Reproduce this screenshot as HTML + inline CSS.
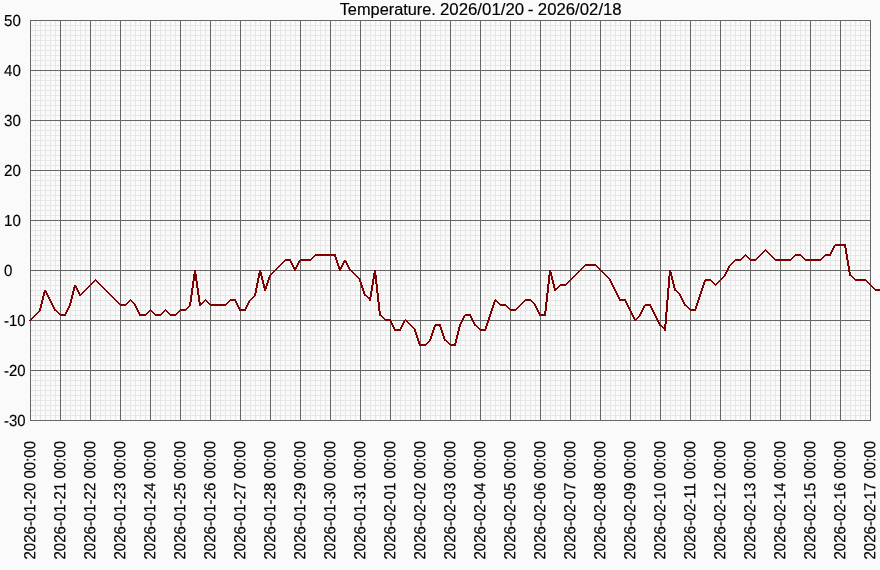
<!DOCTYPE html>
<html><head><meta charset="utf-8"><title>Temperature</title>
<style>
html,body{margin:0;padding:0;background:#fafafa;}
body{width:880px;height:570px;overflow:hidden;}
svg{display:block;}
text{font-family:"Liberation Sans",sans-serif;fill:#000000;stroke:#000000;stroke-width:0.15px;}
svg{will-change:transform;}
</style></head><body>
<svg width="880" height="570" viewBox="0 0 880 570">
<rect x="0" y="0" width="880" height="570" fill="#fafafa"/>
<g fill="#e6e6e6" shape-rendering="crispEdges">
<rect x="35" y="20" width="1" height="401"/><rect x="40" y="20" width="1" height="401"/><rect x="45" y="20" width="1" height="401"/><rect x="50" y="20" width="1" height="401"/><rect x="55" y="20" width="1" height="401"/><rect x="65" y="20" width="1" height="401"/><rect x="70" y="20" width="1" height="401"/><rect x="75" y="20" width="1" height="401"/><rect x="80" y="20" width="1" height="401"/><rect x="85" y="20" width="1" height="401"/><rect x="95" y="20" width="1" height="401"/><rect x="100" y="20" width="1" height="401"/><rect x="105" y="20" width="1" height="401"/><rect x="110" y="20" width="1" height="401"/><rect x="115" y="20" width="1" height="401"/><rect x="125" y="20" width="1" height="401"/><rect x="130" y="20" width="1" height="401"/><rect x="135" y="20" width="1" height="401"/><rect x="140" y="20" width="1" height="401"/><rect x="145" y="20" width="1" height="401"/><rect x="155" y="20" width="1" height="401"/><rect x="160" y="20" width="1" height="401"/><rect x="165" y="20" width="1" height="401"/><rect x="170" y="20" width="1" height="401"/><rect x="175" y="20" width="1" height="401"/><rect x="185" y="20" width="1" height="401"/><rect x="190" y="20" width="1" height="401"/><rect x="195" y="20" width="1" height="401"/><rect x="200" y="20" width="1" height="401"/><rect x="205" y="20" width="1" height="401"/><rect x="215" y="20" width="1" height="401"/><rect x="220" y="20" width="1" height="401"/><rect x="225" y="20" width="1" height="401"/><rect x="230" y="20" width="1" height="401"/><rect x="235" y="20" width="1" height="401"/><rect x="245" y="20" width="1" height="401"/><rect x="250" y="20" width="1" height="401"/><rect x="255" y="20" width="1" height="401"/><rect x="260" y="20" width="1" height="401"/><rect x="265" y="20" width="1" height="401"/><rect x="275" y="20" width="1" height="401"/><rect x="280" y="20" width="1" height="401"/><rect x="285" y="20" width="1" height="401"/><rect x="290" y="20" width="1" height="401"/><rect x="295" y="20" width="1" height="401"/><rect x="305" y="20" width="1" height="401"/><rect x="310" y="20" width="1" height="401"/><rect x="315" y="20" width="1" height="401"/><rect x="320" y="20" width="1" height="401"/><rect x="325" y="20" width="1" height="401"/><rect x="335" y="20" width="1" height="401"/><rect x="340" y="20" width="1" height="401"/><rect x="345" y="20" width="1" height="401"/><rect x="350" y="20" width="1" height="401"/><rect x="355" y="20" width="1" height="401"/><rect x="365" y="20" width="1" height="401"/><rect x="370" y="20" width="1" height="401"/><rect x="375" y="20" width="1" height="401"/><rect x="380" y="20" width="1" height="401"/><rect x="385" y="20" width="1" height="401"/><rect x="395" y="20" width="1" height="401"/><rect x="400" y="20" width="1" height="401"/><rect x="405" y="20" width="1" height="401"/><rect x="410" y="20" width="1" height="401"/><rect x="415" y="20" width="1" height="401"/><rect x="425" y="20" width="1" height="401"/><rect x="430" y="20" width="1" height="401"/><rect x="435" y="20" width="1" height="401"/><rect x="440" y="20" width="1" height="401"/><rect x="445" y="20" width="1" height="401"/><rect x="455" y="20" width="1" height="401"/><rect x="460" y="20" width="1" height="401"/><rect x="465" y="20" width="1" height="401"/><rect x="470" y="20" width="1" height="401"/><rect x="475" y="20" width="1" height="401"/><rect x="485" y="20" width="1" height="401"/><rect x="490" y="20" width="1" height="401"/><rect x="495" y="20" width="1" height="401"/><rect x="500" y="20" width="1" height="401"/><rect x="505" y="20" width="1" height="401"/><rect x="515" y="20" width="1" height="401"/><rect x="520" y="20" width="1" height="401"/><rect x="525" y="20" width="1" height="401"/><rect x="530" y="20" width="1" height="401"/><rect x="535" y="20" width="1" height="401"/><rect x="545" y="20" width="1" height="401"/><rect x="550" y="20" width="1" height="401"/><rect x="555" y="20" width="1" height="401"/><rect x="560" y="20" width="1" height="401"/><rect x="565" y="20" width="1" height="401"/><rect x="575" y="20" width="1" height="401"/><rect x="580" y="20" width="1" height="401"/><rect x="585" y="20" width="1" height="401"/><rect x="590" y="20" width="1" height="401"/><rect x="595" y="20" width="1" height="401"/><rect x="605" y="20" width="1" height="401"/><rect x="610" y="20" width="1" height="401"/><rect x="615" y="20" width="1" height="401"/><rect x="620" y="20" width="1" height="401"/><rect x="625" y="20" width="1" height="401"/><rect x="635" y="20" width="1" height="401"/><rect x="640" y="20" width="1" height="401"/><rect x="645" y="20" width="1" height="401"/><rect x="650" y="20" width="1" height="401"/><rect x="655" y="20" width="1" height="401"/><rect x="665" y="20" width="1" height="401"/><rect x="670" y="20" width="1" height="401"/><rect x="675" y="20" width="1" height="401"/><rect x="680" y="20" width="1" height="401"/><rect x="685" y="20" width="1" height="401"/><rect x="695" y="20" width="1" height="401"/><rect x="700" y="20" width="1" height="401"/><rect x="705" y="20" width="1" height="401"/><rect x="710" y="20" width="1" height="401"/><rect x="715" y="20" width="1" height="401"/><rect x="725" y="20" width="1" height="401"/><rect x="730" y="20" width="1" height="401"/><rect x="735" y="20" width="1" height="401"/><rect x="740" y="20" width="1" height="401"/><rect x="745" y="20" width="1" height="401"/><rect x="755" y="20" width="1" height="401"/><rect x="760" y="20" width="1" height="401"/><rect x="765" y="20" width="1" height="401"/><rect x="770" y="20" width="1" height="401"/><rect x="775" y="20" width="1" height="401"/><rect x="785" y="20" width="1" height="401"/><rect x="790" y="20" width="1" height="401"/><rect x="795" y="20" width="1" height="401"/><rect x="800" y="20" width="1" height="401"/><rect x="805" y="20" width="1" height="401"/><rect x="815" y="20" width="1" height="401"/><rect x="820" y="20" width="1" height="401"/><rect x="825" y="20" width="1" height="401"/><rect x="830" y="20" width="1" height="401"/><rect x="835" y="20" width="1" height="401"/><rect x="845" y="20" width="1" height="401"/><rect x="850" y="20" width="1" height="401"/><rect x="855" y="20" width="1" height="401"/><rect x="860" y="20" width="1" height="401"/><rect x="865" y="20" width="1" height="401"/>
<rect x="30" y="25" width="841" height="1"/><rect x="30" y="30" width="841" height="1"/><rect x="30" y="35" width="841" height="1"/><rect x="30" y="40" width="841" height="1"/><rect x="30" y="45" width="841" height="1"/><rect x="30" y="50" width="841" height="1"/><rect x="30" y="55" width="841" height="1"/><rect x="30" y="60" width="841" height="1"/><rect x="30" y="65" width="841" height="1"/><rect x="30" y="75" width="841" height="1"/><rect x="30" y="80" width="841" height="1"/><rect x="30" y="85" width="841" height="1"/><rect x="30" y="90" width="841" height="1"/><rect x="30" y="95" width="841" height="1"/><rect x="30" y="100" width="841" height="1"/><rect x="30" y="105" width="841" height="1"/><rect x="30" y="110" width="841" height="1"/><rect x="30" y="115" width="841" height="1"/><rect x="30" y="125" width="841" height="1"/><rect x="30" y="130" width="841" height="1"/><rect x="30" y="135" width="841" height="1"/><rect x="30" y="140" width="841" height="1"/><rect x="30" y="145" width="841" height="1"/><rect x="30" y="150" width="841" height="1"/><rect x="30" y="155" width="841" height="1"/><rect x="30" y="160" width="841" height="1"/><rect x="30" y="165" width="841" height="1"/><rect x="30" y="175" width="841" height="1"/><rect x="30" y="180" width="841" height="1"/><rect x="30" y="185" width="841" height="1"/><rect x="30" y="190" width="841" height="1"/><rect x="30" y="195" width="841" height="1"/><rect x="30" y="200" width="841" height="1"/><rect x="30" y="205" width="841" height="1"/><rect x="30" y="210" width="841" height="1"/><rect x="30" y="215" width="841" height="1"/><rect x="30" y="225" width="841" height="1"/><rect x="30" y="230" width="841" height="1"/><rect x="30" y="235" width="841" height="1"/><rect x="30" y="240" width="841" height="1"/><rect x="30" y="245" width="841" height="1"/><rect x="30" y="250" width="841" height="1"/><rect x="30" y="255" width="841" height="1"/><rect x="30" y="260" width="841" height="1"/><rect x="30" y="265" width="841" height="1"/><rect x="30" y="275" width="841" height="1"/><rect x="30" y="280" width="841" height="1"/><rect x="30" y="285" width="841" height="1"/><rect x="30" y="290" width="841" height="1"/><rect x="30" y="295" width="841" height="1"/><rect x="30" y="300" width="841" height="1"/><rect x="30" y="305" width="841" height="1"/><rect x="30" y="310" width="841" height="1"/><rect x="30" y="315" width="841" height="1"/><rect x="30" y="325" width="841" height="1"/><rect x="30" y="330" width="841" height="1"/><rect x="30" y="335" width="841" height="1"/><rect x="30" y="340" width="841" height="1"/><rect x="30" y="345" width="841" height="1"/><rect x="30" y="350" width="841" height="1"/><rect x="30" y="355" width="841" height="1"/><rect x="30" y="360" width="841" height="1"/><rect x="30" y="365" width="841" height="1"/><rect x="30" y="375" width="841" height="1"/><rect x="30" y="380" width="841" height="1"/><rect x="30" y="385" width="841" height="1"/><rect x="30" y="390" width="841" height="1"/><rect x="30" y="395" width="841" height="1"/><rect x="30" y="400" width="841" height="1"/><rect x="30" y="405" width="841" height="1"/><rect x="30" y="410" width="841" height="1"/><rect x="30" y="415" width="841" height="1"/>
</g>
<g fill="#666666" shape-rendering="crispEdges">
<rect x="30" y="20" width="1" height="401"/><rect x="60" y="20" width="1" height="401"/><rect x="90" y="20" width="1" height="401"/><rect x="120" y="20" width="1" height="401"/><rect x="150" y="20" width="1" height="401"/><rect x="180" y="20" width="1" height="401"/><rect x="210" y="20" width="1" height="401"/><rect x="240" y="20" width="1" height="401"/><rect x="270" y="20" width="1" height="401"/><rect x="300" y="20" width="1" height="401"/><rect x="330" y="20" width="1" height="401"/><rect x="360" y="20" width="1" height="401"/><rect x="390" y="20" width="1" height="401"/><rect x="420" y="20" width="1" height="401"/><rect x="450" y="20" width="1" height="401"/><rect x="480" y="20" width="1" height="401"/><rect x="510" y="20" width="1" height="401"/><rect x="540" y="20" width="1" height="401"/><rect x="570" y="20" width="1" height="401"/><rect x="600" y="20" width="1" height="401"/><rect x="630" y="20" width="1" height="401"/><rect x="660" y="20" width="1" height="401"/><rect x="690" y="20" width="1" height="401"/><rect x="720" y="20" width="1" height="401"/><rect x="750" y="20" width="1" height="401"/><rect x="780" y="20" width="1" height="401"/><rect x="810" y="20" width="1" height="401"/><rect x="840" y="20" width="1" height="401"/><rect x="870" y="20" width="1" height="401"/>
<rect x="30" y="20" width="841" height="1"/><rect x="30" y="70" width="841" height="1"/><rect x="30" y="120" width="841" height="1"/><rect x="30" y="170" width="841" height="1"/><rect x="30" y="220" width="841" height="1"/><rect x="30" y="270" width="841" height="1"/><rect x="30" y="320" width="841" height="1"/><rect x="30" y="370" width="841" height="1"/><rect x="30" y="420" width="841" height="1"/>
</g>
<path d="M835 244h11v1h-11zM834 245h12v1h-12zM833 246h2v1h-2zM844 246h2v1h-2zM833 247h2v1h-2zM844 247h2v1h-2zM832 248h2v1h-2zM845 248h2v1h-2zM765 249h1v1h-1zM832 249h2v1h-2zM845 249h2v1h-2zM764 250h3v1h-3zM831 250h2v1h-2zM845 250h2v1h-2zM763 251h2v1h-2zM766 251h2v1h-2zM831 251h2v1h-2zM845 251h2v1h-2zM762 252h2v1h-2zM767 252h2v1h-2zM830 252h2v1h-2zM845 252h2v1h-2zM761 253h2v1h-2zM768 253h2v1h-2zM830 253h2v1h-2zM845 253h2v1h-2zM315 254h21v1h-21zM745 254h1v1h-1zM760 254h2v1h-2zM769 254h2v1h-2zM795 254h6v1h-6zM825 254h6v1h-6zM846 254h2v1h-2zM314 255h22v1h-22zM744 255h3v1h-3zM759 255h2v1h-2zM770 255h2v1h-2zM794 255h8v1h-8zM824 255h7v1h-7zM846 255h2v1h-2zM313 256h2v1h-2zM334 256h2v1h-2zM743 256h2v1h-2zM746 256h2v1h-2zM758 256h2v1h-2zM771 256h2v1h-2zM793 256h2v1h-2zM801 256h2v1h-2zM823 256h2v1h-2zM846 256h2v1h-2zM312 257h2v1h-2zM335 257h2v1h-2zM742 257h2v1h-2zM747 257h2v1h-2zM757 257h2v1h-2zM772 257h2v1h-2zM792 257h2v1h-2zM802 257h2v1h-2zM822 257h2v1h-2zM846 257h2v1h-2zM311 258h2v1h-2zM335 258h2v1h-2zM741 258h2v1h-2zM748 258h2v1h-2zM756 258h2v1h-2zM773 258h2v1h-2zM791 258h2v1h-2zM803 258h2v1h-2zM821 258h2v1h-2zM846 258h2v1h-2zM285 259h6v1h-6zM300 259h12v1h-12zM335 259h2v1h-2zM735 259h7v1h-7zM749 259h8v1h-8zM774 259h18v1h-18zM804 259h18v1h-18zM846 259h2v1h-2zM284 260h7v1h-7zM299 260h12v1h-12zM336 260h2v1h-2zM344 260h2v1h-2zM734 260h7v1h-7zM750 260h6v1h-6zM775 260h16v1h-16zM805 260h16v1h-16zM847 260h2v1h-2zM283 261h2v1h-2zM290 261h2v1h-2zM298 261h2v1h-2zM336 261h2v1h-2zM343 261h4v1h-4zM733 261h2v1h-2zM847 261h2v1h-2zM282 262h2v1h-2zM290 262h2v1h-2zM298 262h2v1h-2zM336 262h2v1h-2zM343 262h4v1h-4zM732 262h2v1h-2zM847 262h2v1h-2zM281 263h2v1h-2zM291 263h2v1h-2zM297 263h2v1h-2zM337 263h2v1h-2zM342 263h2v1h-2zM346 263h2v1h-2zM731 263h2v1h-2zM847 263h2v1h-2zM280 264h2v1h-2zM291 264h2v1h-2zM297 264h2v1h-2zM337 264h2v1h-2zM342 264h2v1h-2zM346 264h2v1h-2zM585 264h11v1h-11zM730 264h2v1h-2zM847 264h2v1h-2zM279 265h2v1h-2zM292 265h2v1h-2zM296 265h2v1h-2zM337 265h2v1h-2zM341 265h2v1h-2zM347 265h2v1h-2zM584 265h13v1h-13zM729 265h2v1h-2zM847 265h2v1h-2zM278 266h2v1h-2zM292 266h2v1h-2zM296 266h2v1h-2zM338 266h2v1h-2zM341 266h2v1h-2zM347 266h2v1h-2zM583 266h2v1h-2zM596 266h2v1h-2zM728 266h2v1h-2zM848 266h2v1h-2zM277 267h2v1h-2zM293 267h4v1h-4zM338 267h4v1h-4zM348 267h2v1h-2zM582 267h2v1h-2zM597 267h2v1h-2zM728 267h2v1h-2zM848 267h2v1h-2zM276 268h2v1h-2zM293 268h4v1h-4zM338 268h4v1h-4zM348 268h2v1h-2zM581 268h2v1h-2zM598 268h2v1h-2zM727 268h2v1h-2zM848 268h2v1h-2zM275 269h2v1h-2zM294 269h2v1h-2zM339 269h2v1h-2zM349 269h2v1h-2zM580 269h2v1h-2zM599 269h2v1h-2zM727 269h2v1h-2zM848 269h2v1h-2zM194 270h2v1h-2zM259 270h2v1h-2zM274 270h2v1h-2zM294 270h2v1h-2zM339 270h2v1h-2zM349 270h3v1h-3zM374 270h2v1h-2zM549 270h2v1h-2zM579 270h2v1h-2zM600 270h2v1h-2zM669 270h2v1h-2zM726 270h2v1h-2zM848 270h2v1h-2zM194 271h2v1h-2zM259 271h2v1h-2zM273 271h2v1h-2zM351 271h2v1h-2zM374 271h2v1h-2zM549 271h2v1h-2zM578 271h2v1h-2zM601 271h2v1h-2zM669 271h2v1h-2zM726 271h2v1h-2zM848 271h2v1h-2zM194 272h2v1h-2zM259 272h3v1h-3zM272 272h2v1h-2zM352 272h2v1h-2zM374 272h2v1h-2zM549 272h3v1h-3zM577 272h2v1h-2zM602 272h2v1h-2zM669 272h3v1h-3zM725 272h2v1h-2zM849 272h2v1h-2zM194 273h2v1h-2zM258 273h4v1h-4zM271 273h2v1h-2zM353 273h2v1h-2zM373 273h3v1h-3zM549 273h3v1h-3zM576 273h2v1h-2zM603 273h2v1h-2zM669 273h3v1h-3zM725 273h2v1h-2zM849 273h2v1h-2zM193 274h4v1h-4zM258 274h4v1h-4zM270 274h2v1h-2zM354 274h2v1h-2zM373 274h3v1h-3zM549 274h3v1h-3zM575 274h2v1h-2zM604 274h2v1h-2zM669 274h3v1h-3zM724 274h2v1h-2zM849 274h2v1h-2zM193 275h4v1h-4zM258 275h4v1h-4zM269 275h2v1h-2zM355 275h2v1h-2zM373 275h4v1h-4zM548 275h4v1h-4zM574 275h2v1h-2zM605 275h2v1h-2zM669 275h3v1h-3zM724 275h2v1h-2zM849 275h3v1h-3zM193 276h4v1h-4zM258 276h2v1h-2zM261 276h2v1h-2zM269 276h2v1h-2zM356 276h2v1h-2zM373 276h4v1h-4zM548 276h2v1h-2zM551 276h2v1h-2zM573 276h2v1h-2zM606 276h2v1h-2zM668 276h2v1h-2zM671 276h2v1h-2zM723 276h2v1h-2zM851 276h2v1h-2zM193 277h4v1h-4zM258 277h2v1h-2zM261 277h2v1h-2zM268 277h2v1h-2zM357 277h2v1h-2zM373 277h4v1h-4zM548 277h2v1h-2zM551 277h2v1h-2zM572 277h2v1h-2zM607 277h2v1h-2zM668 277h2v1h-2zM671 277h2v1h-2zM722 277h2v1h-2zM852 277h2v1h-2zM193 278h4v1h-4zM257 278h2v1h-2zM261 278h2v1h-2zM268 278h2v1h-2zM358 278h2v1h-2zM373 278h4v1h-4zM548 278h2v1h-2zM551 278h2v1h-2zM571 278h2v1h-2zM608 278h2v1h-2zM668 278h2v1h-2zM671 278h2v1h-2zM721 278h2v1h-2zM853 278h2v1h-2zM95 279h1v1h-1zM193 279h4v1h-4zM257 279h2v1h-2zM261 279h2v1h-2zM268 279h2v1h-2zM359 279h2v1h-2zM372 279h2v1h-2zM375 279h2v1h-2zM548 279h2v1h-2zM551 279h2v1h-2zM570 279h2v1h-2zM609 279h2v1h-2zM668 279h2v1h-2zM671 279h2v1h-2zM705 279h6v1h-6zM720 279h2v1h-2zM854 279h12v1h-12zM94 280h3v1h-3zM193 280h4v1h-4zM257 280h2v1h-2zM262 280h2v1h-2zM267 280h2v1h-2zM359 280h2v1h-2zM372 280h2v1h-2zM375 280h2v1h-2zM548 280h2v1h-2zM552 280h2v1h-2zM569 280h2v1h-2zM609 280h2v1h-2zM668 280h2v1h-2zM672 280h2v1h-2zM704 280h8v1h-8zM719 280h2v1h-2zM855 280h12v1h-12zM93 281h2v1h-2zM96 281h2v1h-2zM192 281h2v1h-2zM196 281h2v1h-2zM257 281h2v1h-2zM262 281h2v1h-2zM267 281h2v1h-2zM359 281h2v1h-2zM372 281h2v1h-2zM375 281h2v1h-2zM548 281h2v1h-2zM552 281h2v1h-2zM568 281h2v1h-2zM610 281h2v1h-2zM668 281h2v1h-2zM672 281h2v1h-2zM704 281h2v1h-2zM711 281h2v1h-2zM718 281h2v1h-2zM866 281h2v1h-2zM92 282h2v1h-2zM97 282h2v1h-2zM192 282h2v1h-2zM196 282h2v1h-2zM257 282h2v1h-2zM262 282h2v1h-2zM267 282h2v1h-2zM360 282h2v1h-2zM372 282h2v1h-2zM375 282h2v1h-2zM548 282h2v1h-2zM552 282h2v1h-2zM567 282h2v1h-2zM610 282h2v1h-2zM668 282h2v1h-2zM672 282h2v1h-2zM703 282h2v1h-2zM712 282h2v1h-2zM717 282h2v1h-2zM867 282h2v1h-2zM91 283h2v1h-2zM98 283h2v1h-2zM192 283h2v1h-2zM196 283h2v1h-2zM256 283h2v1h-2zM262 283h2v1h-2zM266 283h2v1h-2zM360 283h2v1h-2zM372 283h2v1h-2zM375 283h2v1h-2zM548 283h2v1h-2zM552 283h2v1h-2zM566 283h2v1h-2zM611 283h2v1h-2zM668 283h2v1h-2zM672 283h2v1h-2zM703 283h2v1h-2zM713 283h2v1h-2zM716 283h2v1h-2zM868 283h2v1h-2zM90 284h2v1h-2zM99 284h2v1h-2zM192 284h2v1h-2zM196 284h2v1h-2zM256 284h2v1h-2zM263 284h2v1h-2zM266 284h2v1h-2zM360 284h2v1h-2zM372 284h2v1h-2zM376 284h2v1h-2zM547 284h2v1h-2zM553 284h2v1h-2zM560 284h7v1h-7zM611 284h2v1h-2zM668 284h2v1h-2zM673 284h2v1h-2zM703 284h2v1h-2zM714 284h3v1h-3zM869 284h2v1h-2zM74 285h2v1h-2zM89 285h2v1h-2zM100 285h2v1h-2zM192 285h2v1h-2zM196 285h2v1h-2zM256 285h2v1h-2zM263 285h2v1h-2zM266 285h2v1h-2zM361 285h2v1h-2zM371 285h2v1h-2zM376 285h2v1h-2zM547 285h2v1h-2zM553 285h2v1h-2zM559 285h7v1h-7zM612 285h2v1h-2zM668 285h2v1h-2zM673 285h2v1h-2zM702 285h2v1h-2zM715 285h1v1h-1zM870 285h2v1h-2zM74 286h3v1h-3zM88 286h2v1h-2zM101 286h2v1h-2zM192 286h2v1h-2zM196 286h2v1h-2zM256 286h2v1h-2zM263 286h4v1h-4zM361 286h2v1h-2zM371 286h2v1h-2zM376 286h2v1h-2zM547 286h2v1h-2zM553 286h2v1h-2zM558 286h2v1h-2zM612 286h2v1h-2zM668 286h2v1h-2zM673 286h2v1h-2zM702 286h2v1h-2zM871 286h2v1h-2zM73 287h4v1h-4zM87 287h2v1h-2zM102 287h2v1h-2zM192 287h2v1h-2zM196 287h2v1h-2zM256 287h2v1h-2zM263 287h4v1h-4zM361 287h2v1h-2zM371 287h2v1h-2zM376 287h2v1h-2zM547 287h2v1h-2zM553 287h2v1h-2zM557 287h2v1h-2zM613 287h2v1h-2zM668 287h2v1h-2zM673 287h2v1h-2zM702 287h2v1h-2zM872 287h2v1h-2zM73 288h2v1h-2zM76 288h2v1h-2zM86 288h2v1h-2zM103 288h2v1h-2zM191 288h2v1h-2zM197 288h2v1h-2zM255 288h2v1h-2zM264 288h3v1h-3zM362 288h2v1h-2zM371 288h2v1h-2zM376 288h2v1h-2zM547 288h2v1h-2zM554 288h4v1h-4zM613 288h2v1h-2zM667 288h2v1h-2zM674 288h2v1h-2zM701 288h2v1h-2zM873 288h2v1h-2zM73 289h2v1h-2zM76 289h2v1h-2zM85 289h2v1h-2zM104 289h2v1h-2zM191 289h2v1h-2zM197 289h2v1h-2zM255 289h2v1h-2zM264 289h2v1h-2zM362 289h2v1h-2zM371 289h2v1h-2zM376 289h2v1h-2zM547 289h2v1h-2zM554 289h3v1h-3zM614 289h2v1h-2zM667 289h2v1h-2zM674 289h2v1h-2zM701 289h2v1h-2zM874 289h6v1h-6zM44 290h2v1h-2zM73 290h2v1h-2zM77 290h2v1h-2zM84 290h2v1h-2zM105 290h2v1h-2zM191 290h2v1h-2zM197 290h2v1h-2zM255 290h2v1h-2zM264 290h2v1h-2zM362 290h2v1h-2zM371 290h2v1h-2zM376 290h2v1h-2zM547 290h2v1h-2zM554 290h2v1h-2zM614 290h2v1h-2zM667 290h2v1h-2zM674 290h3v1h-3zM701 290h2v1h-2zM875 290h5v1h-5zM44 291h3v1h-3zM72 291h2v1h-2zM77 291h2v1h-2zM83 291h2v1h-2zM106 291h2v1h-2zM191 291h2v1h-2zM197 291h2v1h-2zM255 291h2v1h-2zM363 291h2v1h-2zM370 291h2v1h-2zM376 291h2v1h-2zM547 291h2v1h-2zM615 291h2v1h-2zM667 291h2v1h-2zM676 291h2v1h-2zM700 291h2v1h-2zM43 292h4v1h-4zM72 292h2v1h-2zM78 292h2v1h-2zM82 292h2v1h-2zM107 292h2v1h-2zM191 292h2v1h-2zM197 292h2v1h-2zM255 292h2v1h-2zM363 292h2v1h-2zM370 292h2v1h-2zM376 292h2v1h-2zM547 292h2v1h-2zM615 292h2v1h-2zM667 292h2v1h-2zM677 292h2v1h-2zM700 292h2v1h-2zM43 293h2v1h-2zM46 293h2v1h-2zM72 293h2v1h-2zM78 293h2v1h-2zM81 293h2v1h-2zM108 293h2v1h-2zM191 293h2v1h-2zM197 293h2v1h-2zM254 293h2v1h-2zM363 293h2v1h-2zM370 293h2v1h-2zM377 293h2v1h-2zM546 293h2v1h-2zM616 293h2v1h-2zM667 293h2v1h-2zM678 293h2v1h-2zM700 293h2v1h-2zM43 294h2v1h-2zM46 294h2v1h-2zM72 294h2v1h-2zM79 294h3v1h-3zM109 294h2v1h-2zM191 294h2v1h-2zM197 294h2v1h-2zM254 294h2v1h-2zM364 294h2v1h-2zM370 294h2v1h-2zM377 294h2v1h-2zM546 294h2v1h-2zM616 294h2v1h-2zM667 294h2v1h-2zM679 294h2v1h-2zM699 294h2v1h-2zM43 295h2v1h-2zM47 295h2v1h-2zM71 295h2v1h-2zM79 295h2v1h-2zM110 295h2v1h-2zM190 295h2v1h-2zM198 295h2v1h-2zM254 295h2v1h-2zM364 295h3v1h-3zM370 295h2v1h-2zM377 295h2v1h-2zM546 295h2v1h-2zM617 295h2v1h-2zM667 295h2v1h-2zM679 295h2v1h-2zM699 295h2v1h-2zM42 296h2v1h-2zM47 296h2v1h-2zM71 296h2v1h-2zM111 296h2v1h-2zM190 296h2v1h-2zM198 296h2v1h-2zM253 296h2v1h-2zM366 296h2v1h-2zM370 296h2v1h-2zM377 296h2v1h-2zM546 296h2v1h-2zM617 296h2v1h-2zM667 296h2v1h-2zM680 296h2v1h-2zM699 296h2v1h-2zM42 297h2v1h-2zM48 297h2v1h-2zM71 297h2v1h-2zM112 297h2v1h-2zM190 297h2v1h-2zM198 297h2v1h-2zM252 297h2v1h-2zM367 297h4v1h-4zM377 297h2v1h-2zM546 297h2v1h-2zM618 297h2v1h-2zM667 297h2v1h-2zM680 297h2v1h-2zM698 297h2v1h-2zM42 298h2v1h-2zM48 298h2v1h-2zM71 298h2v1h-2zM113 298h2v1h-2zM190 298h2v1h-2zM198 298h2v1h-2zM251 298h2v1h-2zM368 298h3v1h-3zM377 298h2v1h-2zM546 298h2v1h-2zM618 298h2v1h-2zM667 298h2v1h-2zM681 298h2v1h-2zM698 298h2v1h-2zM42 299h2v1h-2zM49 299h2v1h-2zM70 299h2v1h-2zM114 299h2v1h-2zM130 299h1v1h-1zM190 299h2v1h-2zM198 299h2v1h-2zM205 299h1v1h-1zM230 299h6v1h-6zM250 299h2v1h-2zM369 299h2v1h-2zM377 299h2v1h-2zM495 299h1v1h-1zM525 299h6v1h-6zM546 299h2v1h-2zM619 299h7v1h-7zM667 299h2v1h-2zM681 299h2v1h-2zM698 299h2v1h-2zM41 300h2v1h-2zM49 300h2v1h-2zM70 300h2v1h-2zM115 300h2v1h-2zM129 300h3v1h-3zM190 300h2v1h-2zM198 300h2v1h-2zM204 300h3v1h-3zM229 300h7v1h-7zM249 300h2v1h-2zM369 300h2v1h-2zM377 300h2v1h-2zM494 300h3v1h-3zM524 300h8v1h-8zM546 300h2v1h-2zM619 300h7v1h-7zM666 300h2v1h-2zM682 300h2v1h-2zM697 300h2v1h-2zM41 301h2v1h-2zM50 301h2v1h-2zM70 301h2v1h-2zM116 301h2v1h-2zM128 301h2v1h-2zM131 301h2v1h-2zM190 301h2v1h-2zM198 301h2v1h-2zM203 301h2v1h-2zM206 301h2v1h-2zM228 301h2v1h-2zM235 301h2v1h-2zM248 301h2v1h-2zM377 301h2v1h-2zM494 301h4v1h-4zM523 301h2v1h-2zM531 301h2v1h-2zM546 301h2v1h-2zM625 301h2v1h-2zM666 301h2v1h-2zM682 301h2v1h-2zM697 301h2v1h-2zM41 302h2v1h-2zM50 302h2v1h-2zM70 302h2v1h-2zM117 302h2v1h-2zM127 302h2v1h-2zM132 302h2v1h-2zM189 302h2v1h-2zM199 302h2v1h-2zM202 302h2v1h-2zM207 302h2v1h-2zM227 302h2v1h-2zM235 302h2v1h-2zM248 302h2v1h-2zM378 302h2v1h-2zM493 302h2v1h-2zM497 302h2v1h-2zM522 302h2v1h-2zM532 302h2v1h-2zM545 302h2v1h-2zM625 302h2v1h-2zM666 302h2v1h-2zM683 302h2v1h-2zM697 302h2v1h-2zM41 303h2v1h-2zM51 303h2v1h-2zM69 303h2v1h-2zM118 303h2v1h-2zM126 303h2v1h-2zM133 303h2v1h-2zM189 303h2v1h-2zM199 303h4v1h-4zM208 303h2v1h-2zM226 303h2v1h-2zM236 303h2v1h-2zM247 303h2v1h-2zM378 303h2v1h-2zM493 303h2v1h-2zM498 303h2v1h-2zM521 303h2v1h-2zM533 303h2v1h-2zM545 303h2v1h-2zM626 303h2v1h-2zM666 303h2v1h-2zM683 303h2v1h-2zM696 303h2v1h-2zM40 304h2v1h-2zM51 304h2v1h-2zM69 304h2v1h-2zM119 304h8v1h-8zM134 304h2v1h-2zM189 304h2v1h-2zM199 304h3v1h-3zM209 304h18v1h-18zM236 304h2v1h-2zM247 304h2v1h-2zM378 304h2v1h-2zM493 304h2v1h-2zM499 304h7v1h-7zM520 304h2v1h-2zM534 304h2v1h-2zM545 304h2v1h-2zM626 304h2v1h-2zM645 304h6v1h-6zM666 304h2v1h-2zM684 304h2v1h-2zM696 304h2v1h-2zM40 305h2v1h-2zM52 305h2v1h-2zM69 305h2v1h-2zM120 305h6v1h-6zM134 305h2v1h-2zM189 305h2v1h-2zM199 305h2v1h-2zM210 305h16v1h-16zM237 305h2v1h-2zM246 305h2v1h-2zM378 305h2v1h-2zM492 305h2v1h-2zM500 305h7v1h-7zM519 305h2v1h-2zM534 305h2v1h-2zM545 305h2v1h-2zM627 305h2v1h-2zM644 305h7v1h-7zM666 305h2v1h-2zM684 305h3v1h-3zM696 305h2v1h-2zM40 306h2v1h-2zM52 306h2v1h-2zM68 306h2v1h-2zM135 306h2v1h-2zM188 306h2v1h-2zM237 306h2v1h-2zM246 306h2v1h-2zM378 306h2v1h-2zM492 306h2v1h-2zM506 306h2v1h-2zM518 306h2v1h-2zM535 306h2v1h-2zM545 306h2v1h-2zM627 306h2v1h-2zM643 306h2v1h-2zM650 306h2v1h-2zM666 306h2v1h-2zM686 306h2v1h-2zM695 306h2v1h-2zM40 307h2v1h-2zM53 307h2v1h-2zM68 307h2v1h-2zM135 307h2v1h-2zM187 307h2v1h-2zM238 307h2v1h-2zM245 307h2v1h-2zM378 307h2v1h-2zM492 307h2v1h-2zM507 307h2v1h-2zM517 307h2v1h-2zM535 307h2v1h-2zM545 307h2v1h-2zM628 307h2v1h-2zM643 307h2v1h-2zM650 307h2v1h-2zM666 307h2v1h-2zM687 307h2v1h-2zM695 307h2v1h-2zM39 308h2v1h-2zM53 308h2v1h-2zM67 308h2v1h-2zM136 308h2v1h-2zM186 308h2v1h-2zM238 308h2v1h-2zM245 308h2v1h-2zM378 308h2v1h-2zM491 308h2v1h-2zM508 308h2v1h-2zM516 308h2v1h-2zM536 308h2v1h-2zM545 308h2v1h-2zM628 308h2v1h-2zM642 308h2v1h-2zM651 308h2v1h-2zM666 308h2v1h-2zM688 308h2v1h-2zM695 308h2v1h-2zM39 309h2v1h-2zM54 309h2v1h-2zM67 309h2v1h-2zM136 309h2v1h-2zM150 309h1v1h-1zM165 309h1v1h-1zM180 309h7v1h-7zM239 309h7v1h-7zM378 309h2v1h-2zM491 309h2v1h-2zM509 309h8v1h-8zM536 309h2v1h-2zM545 309h2v1h-2zM629 309h2v1h-2zM642 309h2v1h-2zM651 309h2v1h-2zM666 309h2v1h-2zM689 309h7v1h-7zM39 310h2v1h-2zM54 310h3v1h-3zM66 310h2v1h-2zM137 310h2v1h-2zM149 310h3v1h-3zM164 310h3v1h-3zM179 310h7v1h-7zM239 310h7v1h-7zM378 310h2v1h-2zM491 310h2v1h-2zM510 310h6v1h-6zM537 310h2v1h-2zM545 310h2v1h-2zM629 310h2v1h-2zM641 310h2v1h-2zM652 310h2v1h-2zM666 310h2v1h-2zM690 310h6v1h-6zM38 311h2v1h-2zM56 311h2v1h-2zM66 311h2v1h-2zM137 311h2v1h-2zM148 311h2v1h-2zM151 311h2v1h-2zM163 311h2v1h-2zM166 311h2v1h-2zM178 311h2v1h-2zM379 311h2v1h-2zM490 311h2v1h-2zM537 311h2v1h-2zM544 311h2v1h-2zM630 311h2v1h-2zM641 311h2v1h-2zM652 311h2v1h-2zM666 311h2v1h-2zM37 312h2v1h-2zM57 312h2v1h-2zM65 312h2v1h-2zM138 312h2v1h-2zM147 312h2v1h-2zM152 312h2v1h-2zM162 312h2v1h-2zM167 312h2v1h-2zM177 312h2v1h-2zM379 312h2v1h-2zM490 312h2v1h-2zM538 312h2v1h-2zM544 312h2v1h-2zM630 312h2v1h-2zM640 312h2v1h-2zM653 312h2v1h-2zM665 312h2v1h-2zM36 313h2v1h-2zM58 313h2v1h-2zM65 313h2v1h-2zM138 313h2v1h-2zM146 313h2v1h-2zM153 313h2v1h-2zM161 313h2v1h-2zM168 313h2v1h-2zM176 313h2v1h-2zM379 313h2v1h-2zM490 313h2v1h-2zM538 313h2v1h-2zM544 313h2v1h-2zM631 313h2v1h-2zM640 313h2v1h-2zM653 313h2v1h-2zM665 313h2v1h-2zM35 314h2v1h-2zM59 314h7v1h-7zM139 314h8v1h-8zM154 314h8v1h-8zM169 314h8v1h-8zM379 314h2v1h-2zM465 314h6v1h-6zM489 314h2v1h-2zM539 314h7v1h-7zM631 314h2v1h-2zM639 314h2v1h-2zM654 314h2v1h-2zM665 314h2v1h-2zM34 315h2v1h-2zM60 315h6v1h-6zM139 315h7v1h-7zM155 315h6v1h-6zM170 315h6v1h-6zM379 315h3v1h-3zM464 315h7v1h-7zM489 315h2v1h-2zM539 315h7v1h-7zM632 315h2v1h-2zM639 315h2v1h-2zM654 315h2v1h-2zM665 315h2v1h-2zM33 316h2v1h-2zM381 316h2v1h-2zM463 316h2v1h-2zM470 316h2v1h-2zM489 316h2v1h-2zM632 316h2v1h-2zM638 316h2v1h-2zM655 316h2v1h-2zM665 316h2v1h-2zM32 317h2v1h-2zM382 317h2v1h-2zM463 317h2v1h-2zM470 317h2v1h-2zM488 317h2v1h-2zM633 317h2v1h-2zM637 317h2v1h-2zM655 317h2v1h-2zM665 317h2v1h-2zM31 318h2v1h-2zM383 318h2v1h-2zM462 318h2v1h-2zM471 318h2v1h-2zM488 318h2v1h-2zM633 318h2v1h-2zM636 318h2v1h-2zM656 318h2v1h-2zM665 318h2v1h-2zM30 319h2v1h-2zM384 319h7v1h-7zM405 319h1v1h-1zM462 319h2v1h-2zM471 319h2v1h-2zM488 319h2v1h-2zM634 319h3v1h-3zM656 319h2v1h-2zM665 319h2v1h-2zM29 320h2v1h-2zM385 320h6v1h-6zM404 320h3v1h-3zM461 320h2v1h-2zM472 320h2v1h-2zM487 320h2v1h-2zM634 320h2v1h-2zM657 320h2v1h-2zM665 320h2v1h-2zM390 321h2v1h-2zM403 321h2v1h-2zM406 321h2v1h-2zM461 321h2v1h-2zM472 321h2v1h-2zM487 321h2v1h-2zM657 321h2v1h-2zM665 321h2v1h-2zM390 322h2v1h-2zM403 322h2v1h-2zM407 322h2v1h-2zM460 322h2v1h-2zM473 322h2v1h-2zM487 322h2v1h-2zM658 322h2v1h-2zM665 322h2v1h-2zM391 323h2v1h-2zM402 323h2v1h-2zM408 323h2v1h-2zM460 323h2v1h-2zM473 323h2v1h-2zM486 323h2v1h-2zM658 323h2v1h-2zM665 323h2v1h-2zM391 324h2v1h-2zM402 324h2v1h-2zM409 324h2v1h-2zM435 324h6v1h-6zM459 324h2v1h-2zM474 324h2v1h-2zM486 324h2v1h-2zM659 324h2v1h-2zM664 324h2v1h-2zM392 325h2v1h-2zM401 325h2v1h-2zM410 325h2v1h-2zM434 325h7v1h-7zM459 325h2v1h-2zM474 325h3v1h-3zM486 325h2v1h-2zM659 325h3v1h-3zM664 325h2v1h-2zM392 326h2v1h-2zM401 326h2v1h-2zM411 326h2v1h-2zM434 326h2v1h-2zM439 326h2v1h-2zM459 326h2v1h-2zM476 326h2v1h-2zM485 326h2v1h-2zM661 326h2v1h-2zM664 326h2v1h-2zM393 327h2v1h-2zM400 327h2v1h-2zM412 327h2v1h-2zM433 327h2v1h-2zM440 327h2v1h-2zM458 327h2v1h-2zM477 327h2v1h-2zM485 327h2v1h-2zM662 327h4v1h-4zM393 328h2v1h-2zM400 328h2v1h-2zM413 328h2v1h-2zM433 328h2v1h-2zM440 328h2v1h-2zM458 328h2v1h-2zM478 328h2v1h-2zM485 328h2v1h-2zM663 328h3v1h-3zM394 329h7v1h-7zM414 329h2v1h-2zM433 329h2v1h-2zM440 329h2v1h-2zM458 329h2v1h-2zM479 329h7v1h-7zM664 329h2v1h-2zM394 330h7v1h-7zM414 330h2v1h-2zM432 330h2v1h-2zM441 330h2v1h-2zM458 330h2v1h-2zM480 330h6v1h-6zM664 330h2v1h-2zM414 331h2v1h-2zM432 331h2v1h-2zM441 331h2v1h-2zM457 331h2v1h-2zM415 332h2v1h-2zM432 332h2v1h-2zM441 332h2v1h-2zM457 332h2v1h-2zM415 333h2v1h-2zM431 333h2v1h-2zM442 333h2v1h-2zM457 333h2v1h-2zM415 334h2v1h-2zM431 334h2v1h-2zM442 334h2v1h-2zM457 334h2v1h-2zM416 335h2v1h-2zM431 335h2v1h-2zM442 335h2v1h-2zM456 335h2v1h-2zM416 336h2v1h-2zM430 336h2v1h-2zM443 336h2v1h-2zM456 336h2v1h-2zM416 337h2v1h-2zM430 337h2v1h-2zM443 337h2v1h-2zM456 337h2v1h-2zM417 338h2v1h-2zM430 338h2v1h-2zM443 338h2v1h-2zM456 338h2v1h-2zM417 339h2v1h-2zM429 339h2v1h-2zM444 339h2v1h-2zM455 339h2v1h-2zM417 340h2v1h-2zM429 340h2v1h-2zM444 340h3v1h-3zM455 340h2v1h-2zM418 341h2v1h-2zM428 341h2v1h-2zM446 341h2v1h-2zM455 341h2v1h-2zM418 342h2v1h-2zM427 342h2v1h-2zM447 342h2v1h-2zM455 342h2v1h-2zM418 343h2v1h-2zM426 343h2v1h-2zM448 343h2v1h-2zM454 343h2v1h-2zM419 344h8v1h-8zM449 344h7v1h-7zM419 345h7v1h-7zM450 345h6v1h-6z" fill="#800000" shape-rendering="crispEdges"/>
<text transform="translate(339.69,14.7) rotate(0.02)" font-size="16" textLength="96.22" lengthAdjust="spacingAndGlyphs">Temperature.</text>
<text transform="translate(439.96,14.7) rotate(0.02)" font-size="16" textLength="84.14" lengthAdjust="spacingAndGlyphs">2026/01/20</text>
<text transform="translate(527.80,14.7) rotate(0.02)" font-size="16" textLength="5.80" lengthAdjust="spacingAndGlyphs">-</text>
<text transform="translate(537.86,14.7) rotate(0.02)" font-size="16" textLength="83.82" lengthAdjust="spacingAndGlyphs">2026/02/18</text>
<text transform="translate(4,26) rotate(0.03)" font-size="16" textLength="16.8" lengthAdjust="spacingAndGlyphs">50</text>
<text transform="translate(4,76) rotate(0.03)" font-size="16" textLength="16.8" lengthAdjust="spacingAndGlyphs">40</text>
<text transform="translate(4,126) rotate(0.03)" font-size="16" textLength="16.8" lengthAdjust="spacingAndGlyphs">30</text>
<text transform="translate(4,176) rotate(0.03)" font-size="16" textLength="16.8" lengthAdjust="spacingAndGlyphs">20</text>
<text transform="translate(4,226) rotate(0.03)" font-size="16" textLength="16.8" lengthAdjust="spacingAndGlyphs">10</text>
<text transform="translate(4,276) rotate(0.03)" font-size="16" textLength="8.4" lengthAdjust="spacingAndGlyphs">0</text>
<text transform="translate(4,326) rotate(0.03)" font-size="16" textLength="21.5" lengthAdjust="spacingAndGlyphs">-10</text>
<text transform="translate(4,376) rotate(0.03)" font-size="16" textLength="21.5" lengthAdjust="spacingAndGlyphs">-20</text>
<text transform="translate(4,426) rotate(0.03)" font-size="16" textLength="21.5" lengthAdjust="spacingAndGlyphs">-30</text>
<text transform="translate(35.3,559.5) rotate(-90.03)" font-size="16" textLength="118.5" lengthAdjust="spacingAndGlyphs">2026-01-20 00:00</text>
<text transform="translate(65.3,559.5) rotate(-90.03)" font-size="16" textLength="118.5" lengthAdjust="spacingAndGlyphs">2026-01-21 00:00</text>
<text transform="translate(95.3,559.5) rotate(-90.03)" font-size="16" textLength="118.5" lengthAdjust="spacingAndGlyphs">2026-01-22 00:00</text>
<text transform="translate(125.3,559.5) rotate(-90.03)" font-size="16" textLength="118.5" lengthAdjust="spacingAndGlyphs">2026-01-23 00:00</text>
<text transform="translate(155.3,559.5) rotate(-90.03)" font-size="16" textLength="118.5" lengthAdjust="spacingAndGlyphs">2026-01-24 00:00</text>
<text transform="translate(185.3,559.5) rotate(-90.03)" font-size="16" textLength="118.5" lengthAdjust="spacingAndGlyphs">2026-01-25 00:00</text>
<text transform="translate(215.3,559.5) rotate(-90.03)" font-size="16" textLength="118.5" lengthAdjust="spacingAndGlyphs">2026-01-26 00:00</text>
<text transform="translate(245.3,559.5) rotate(-90.03)" font-size="16" textLength="118.5" lengthAdjust="spacingAndGlyphs">2026-01-27 00:00</text>
<text transform="translate(275.3,559.5) rotate(-90.03)" font-size="16" textLength="118.5" lengthAdjust="spacingAndGlyphs">2026-01-28 00:00</text>
<text transform="translate(305.3,559.5) rotate(-90.03)" font-size="16" textLength="118.5" lengthAdjust="spacingAndGlyphs">2026-01-29 00:00</text>
<text transform="translate(335.3,559.5) rotate(-90.03)" font-size="16" textLength="118.5" lengthAdjust="spacingAndGlyphs">2026-01-30 00:00</text>
<text transform="translate(365.3,559.5) rotate(-90.03)" font-size="16" textLength="118.5" lengthAdjust="spacingAndGlyphs">2026-01-31 00:00</text>
<text transform="translate(395.3,559.5) rotate(-90.03)" font-size="16" textLength="118.5" lengthAdjust="spacingAndGlyphs">2026-02-01 00:00</text>
<text transform="translate(425.3,559.5) rotate(-90.03)" font-size="16" textLength="118.5" lengthAdjust="spacingAndGlyphs">2026-02-02 00:00</text>
<text transform="translate(455.3,559.5) rotate(-90.03)" font-size="16" textLength="118.5" lengthAdjust="spacingAndGlyphs">2026-02-03 00:00</text>
<text transform="translate(485.3,559.5) rotate(-90.03)" font-size="16" textLength="118.5" lengthAdjust="spacingAndGlyphs">2026-02-04 00:00</text>
<text transform="translate(515.3,559.5) rotate(-90.03)" font-size="16" textLength="118.5" lengthAdjust="spacingAndGlyphs">2026-02-05 00:00</text>
<text transform="translate(545.3,559.5) rotate(-90.03)" font-size="16" textLength="118.5" lengthAdjust="spacingAndGlyphs">2026-02-06 00:00</text>
<text transform="translate(575.3,559.5) rotate(-90.03)" font-size="16" textLength="118.5" lengthAdjust="spacingAndGlyphs">2026-02-07 00:00</text>
<text transform="translate(605.3,559.5) rotate(-90.03)" font-size="16" textLength="118.5" lengthAdjust="spacingAndGlyphs">2026-02-08 00:00</text>
<text transform="translate(635.3,559.5) rotate(-90.03)" font-size="16" textLength="118.5" lengthAdjust="spacingAndGlyphs">2026-02-09 00:00</text>
<text transform="translate(665.3,559.5) rotate(-90.03)" font-size="16" textLength="118.5" lengthAdjust="spacingAndGlyphs">2026-02-10 00:00</text>
<text transform="translate(695.3,559.5) rotate(-90.03)" font-size="16" textLength="118.5" lengthAdjust="spacingAndGlyphs">2026-02-11 00:00</text>
<text transform="translate(725.3,559.5) rotate(-90.03)" font-size="16" textLength="118.5" lengthAdjust="spacingAndGlyphs">2026-02-12 00:00</text>
<text transform="translate(755.3,559.5) rotate(-90.03)" font-size="16" textLength="118.5" lengthAdjust="spacingAndGlyphs">2026-02-13 00:00</text>
<text transform="translate(785.3,559.5) rotate(-90.03)" font-size="16" textLength="118.5" lengthAdjust="spacingAndGlyphs">2026-02-14 00:00</text>
<text transform="translate(815.3,559.5) rotate(-90.03)" font-size="16" textLength="118.5" lengthAdjust="spacingAndGlyphs">2026-02-15 00:00</text>
<text transform="translate(845.3,559.5) rotate(-90.03)" font-size="16" textLength="118.5" lengthAdjust="spacingAndGlyphs">2026-02-16 00:00</text>
<text transform="translate(875.3,559.5) rotate(-90.03)" font-size="16" textLength="118.5" lengthAdjust="spacingAndGlyphs">2026-02-17 00:00</text>
</svg>
</body></html>
